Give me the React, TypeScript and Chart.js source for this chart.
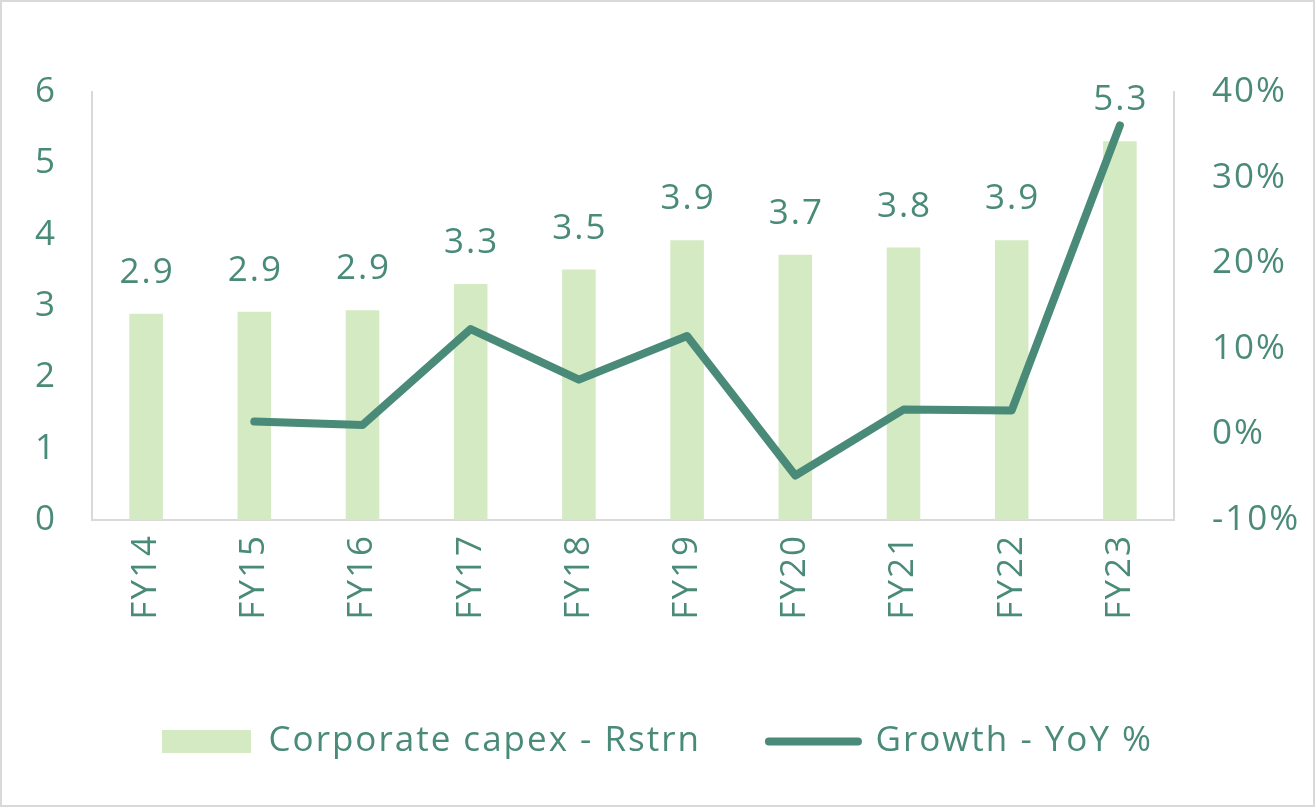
import { type RefObject, useEffect, useRef } from "react";
import { Chart, registerables, type Plugin } from "chart.js";

Chart.register(...registerables);

const years = ["FY14", "FY15", "FY16", "FY17", "FY18", "FY19", "FY20", "FY21", "FY22", "FY23"];
const capex = [2.89, 2.92, 2.94, 3.31, 3.51, 3.92, 3.72, 3.82, 3.92, 5.31];
const growth = [null, 1.5, 1.1, 12.3, 6.4, 11.5, -4.8, 2.9, 2.8, 36.1];

const GREEN = "#4a8a78";
const BAR = "#d3eac3";
const GREY = "#d9d9d9";
const FONT = "'Open Sans'";
const SIZE = 35;
const SPACING = "2px";

// widen the text a little, the original uses a broader typeface
const spacing: Plugin<"bar"> = {
  id: "spacing",
  beforeLayout(chart) {
    (chart.ctx as any).letterSpacing = SPACING;
  },
  beforeDraw(chart) {
    (chart.ctx as any).letterSpacing = SPACING;
  },
};

const barLabels: Plugin<"bar"> = {
  id: "barLabels",
  afterDatasetsDraw(chart) {
    const ctx = chart.ctx;
    const meta = chart.getDatasetMeta(0);
    ctx.save();
    ctx.font = `${SIZE}px ${FONT}`;
    ctx.fillStyle = GREEN;
    ctx.textAlign = "center";
    ctx.textBaseline = "alphabetic";
    meta.data.forEach((el, i) => {
      ctx.fillText(capex[i].toFixed(1), el.x + 1, el.y - 31);
    });
    ctx.restore();
  },
};

const frame: Plugin<"bar"> = {
  id: "frame",
  beforeDraw(chart) {
    const { ctx, width, height } = chart;
    ctx.save();
    ctx.fillStyle = "#fff";
    ctx.fillRect(0, 0, width, height);
    ctx.strokeStyle = GREY;
    ctx.lineWidth = 2;
    ctx.strokeRect(1, 1, width - 2, height - 2);
    ctx.restore();
  },
};

export default function App() {
  const canvasRef: RefObject<HTMLCanvasElement | null> = useRef(null);
  const chartRef: RefObject<Chart<"bar"> | null> = useRef(null);

  useEffect(() => {
    document.body.style.margin = "0";
    if (!canvasRef.current) return;
    chartRef.current?.destroy();
    chartRef.current = new Chart(canvasRef.current, {
      type: "bar",
      data: {
        labels: years,
        datasets: [
          {
            label: "Corporate capex - Rstrn",
            data: capex,
            backgroundColor: BAR,
            barPercentage: 0.62,
            categoryPercentage: 0.5,
            yAxisID: "y",
            order: 2,
          },
          {
            type: "line",
            label: "Growth - YoY %",
            data: growth as any,
            borderColor: GREEN,
            backgroundColor: GREEN,
            borderWidth: 8,
            borderCapStyle: "round",
            borderJoinStyle: "round",
            pointRadius: 0,
            tension: 0,
            yAxisID: "y1",
            order: 1,
          } as any,
        ],
      },
      options: {
        animation: false,
        responsive: true,
        maintainAspectRatio: false,
        layout: { padding: { top: 92, bottom: 38, left: 0, right: 0 } },
        plugins: {
          tooltip: { enabled: false },
          legend: {
            position: "bottom",
            labels: {
              usePointStyle: true,
              pointStyleWidth: 89,
              boxHeight: 23,
              padding: 68,
              color: GREEN,
              font: { family: FONT, size: SIZE },
              generateLabels: (chart) =>
                chart.data.datasets.map((ds, i) => ({
                  text: ds.label as string,
                  datasetIndex: i,
                  fillStyle: i === 0 ? BAR : GREEN,
                  strokeStyle: i === 0 ? BAR : GREEN,
                  lineWidth: i === 0 ? 0 : 8,
                  lineCap: "round",
                  pointStyle: i === 0 ? "rect" : "line",
                  fontColor: GREEN,
                  hidden: false,
                })),
            },
          },
        },
        scales: {
          x: {
            grid: { display: false },
            border: { display: true, color: GREY, width: 2 },
            ticks: {
              color: GREEN,
              font: { family: FONT, size: SIZE },
              maxRotation: 90,
              minRotation: 90,
              padding: 6,
            },
            afterFit: (scale) => {
              scale.height = 136;
            },
          },
          y: {
            position: "left",
            min: 0,
            max: 6,
            grid: { display: false, drawTicks: false },
            border: { display: true, color: GREY, width: 2 },
            ticks: {
              stepSize: 1,
              color: GREEN,
              font: { family: FONT, size: SIZE },
              padding: 35,
            },
            afterFit: (scale) => {
              scale.width = 92;
            },
          },
          y1: {
            position: "right",
            min: -10,
            max: 40,
            grid: { display: false, drawTicks: false },
            border: { display: true, color: GREY, width: 2 },
            ticks: {
              stepSize: 10,
              color: GREEN,
              font: { family: FONT, size: SIZE },
              padding: 38,
              callback: (v) => `${v}%`,
            },
            afterFit: (scale) => {
              scale.width = 141;
            },
          },
        },
      },
      plugins: [spacing, frame, barLabels],
    });
    return () => {
      chartRef.current?.destroy();
      chartRef.current = null;
    };
  }, []);

  return (
    <div style={{ width: 1315, height: 807, position: "relative" }}>
      <canvas ref={canvasRef} />
    </div>
  );
}
